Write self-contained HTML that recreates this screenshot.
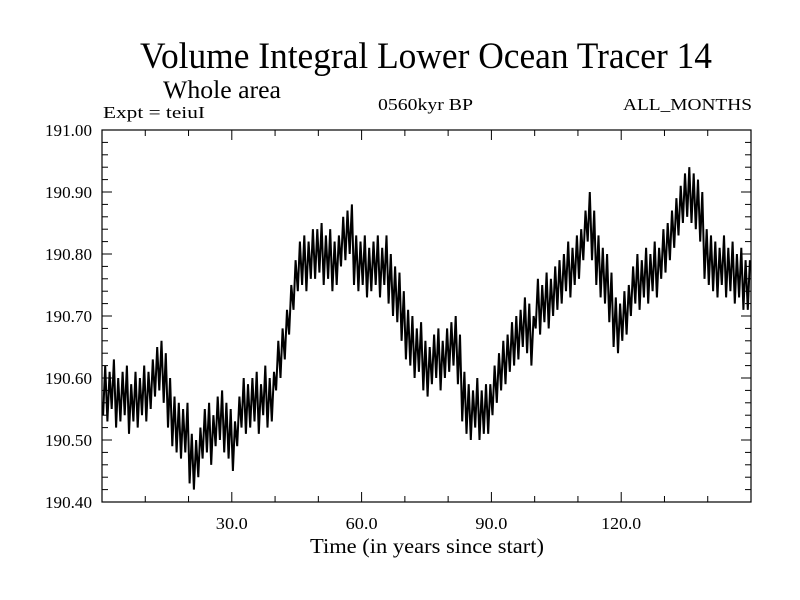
<!DOCTYPE html>
<html><head><meta charset="utf-8"><style>body{margin:0;background:#fff}svg{display:block;font-family:"Liberation Serif",serif}</style></head>
<body>
<svg id="chart" width="800" height="600" xmlns="http://www.w3.org/2000/svg">
<text x="140" y="68" font-size="37" textLength="572" lengthAdjust="spacingAndGlyphs">Volume Integral Lower Ocean Tracer 14</text>
<text x="163" y="98" font-size="25" textLength="118" lengthAdjust="spacingAndGlyphs">Whole area</text>
<text x="103" y="118" font-size="17" textLength="102" lengthAdjust="spacingAndGlyphs">Expt = teiuI</text>
<text x="378" y="110" font-size="17" textLength="95" lengthAdjust="spacingAndGlyphs">0560kyr BP</text>
<text x="623" y="110" font-size="17" textLength="129" lengthAdjust="spacingAndGlyphs">ALL_MONTHS</text>
<text x="310" y="553" font-size="21" textLength="234" lengthAdjust="spacingAndGlyphs">Time (in years since start)</text>
<g id="axes"></g>
<path id="series" fill="none" stroke="#000" stroke-width="2"/>
<rect x="102" y="130" width="649" height="372" fill="none" stroke="#000" stroke-width="1.2"/>
</svg>
<script>
const yTicks = [190.4,190.5,190.6,190.7,190.8,190.9,191.0];
const yTickLabels = ["190.40","190.50","190.60","190.70","190.80","190.90","191.00"];
const xTicks = [30,60,90,120];
const xTickLabels = ["30.0","60.0","90.0","120.0"];
const annualMean = [
.58,.57,.59,.56,.57,.58,.55,.57,.56,.58,
.57,.59,.61,.62,.60,.56,.53,.52,.51,.52,
.47,.46,.48,.51,.52,.50,.53,.54,.52,.51,
.49,.53,.56,.55,.56,.57,.55,.58,.56,.57,
.62,.64,.67,.71,.75,.78,.79,.78,.80,.80,
.81,.79,.80,.78,.79,.82,.83,.84,.79,.78,
.79,.77,.78,.79,.77,.79,.76,.74,.73,.70,
.67,.66,.64,.65,.62,.61,.63,.64,.62,.64,
.65,.66,.63,.57,.55,.54,.56,.54,.55,.55,
.58,.60,.62,.63,.65,.66,.67,.69,.68,.66,
.72,.71,.73,.72,.74,.75,.76,.78,.77,.79,
.80,.83,.86,.83,.79,.77,.76,.73,.69,.68,
.70,.71,.74,.76,.75,.77,.76,.78,.77,.80,
.81,.83,.85,.87,.89,.90,.89,.88,.86,.80,
.79,.78,.77,.79,.77,.78,.76,.77,.75,.75];
const seasonalHalfSwing = 0.04;
const L=102,R=751,T=130,B=502,X0=0,X1=150,Y0=190.4,Y1=191.0;
const sx=v=>L+(v-X0)/(X1-X0)*(R-L);
const sy=v=>B-(v-Y0)/(Y1-Y0)*(B-T);
const NS="http://www.w3.org/2000/svg";
const ax=document.getElementById('axes');
function ln(x1,y1,x2,y2,name){const l=document.createElementNS(NS,'line');
l.setAttribute('x1',x1);l.setAttribute('y1',y1);l.setAttribute('x2',x2);l.setAttribute('y2',y2);
l.setAttribute('stroke','#000');l.setAttribute('stroke-width','1');


ax.appendChild(l);}
function tx(x,y,s,anchor,w,name){const t=document.createElementNS(NS,'text');
t.setAttribute('x',x);t.setAttribute('y',y);t.setAttribute('font-size','17');t.setAttribute('text-anchor',anchor);
t.setAttribute('textLength',w);t.setAttribute('lengthAdjust','spacingAndGlyphs');t.textContent=s;


ax.appendChild(t);}
for(let v=10;v<150;v+=10){const x=sx(v),len=(v%30===0)?10:6;ln(x,B,x,B-len,'x-tick');ln(x,T,x,T+len,'x-tick-top');}
for(let k=1;k<30;k++){const v=Y0+k*0.02,y=sy(v),len=(k%5===0)?10:6;ln(L,y,L+len,y,'y-tick');ln(R,y,R-len,y,'y-tick-right');}
yTicks.forEach((v,i)=>tx(92,sy(v)+6,yTickLabels[i],'end',47,'y-tick-label'));
xTicks.forEach((v,i)=>tx(sx(v),529,xTickLabels[i],'middle',xTickLabels[i].length*8,'x-tick-label'));
let d='';
annualMean.forEach((m,i)=>{
const v=190+m;
d+=(i===0?'M':'L')+sx(i+0.25).toFixed(1)+','+sy(v-seasonalHalfSwing).toFixed(1);
d+='L'+sx(i+0.75).toFixed(1)+','+sy(v+seasonalHalfSwing).toFixed(1);
});
document.getElementById('series').setAttribute('d',d);
</script>
</body></html>
